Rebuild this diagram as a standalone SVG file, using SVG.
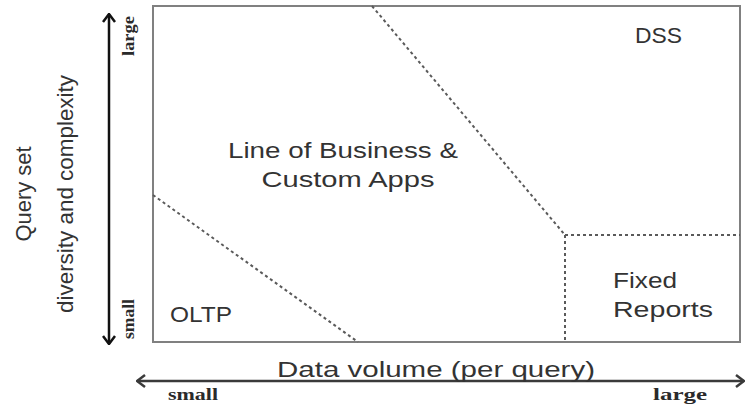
<svg xmlns="http://www.w3.org/2000/svg" width="751" height="404" viewBox="0 0 751 404">
  <style>
    .lbl { font-family: "Liberation Sans", Arial, sans-serif; font-size: 22px; fill: #333333; }
    .tick { font-family: "Liberation Serif", "Times New Roman", serif; font-size: 16px; font-weight: bold; fill: #2a2a2a; }
    .frame { fill: #ffffff; stroke: #808080; stroke-width: 2; }
    .div { fill: none; stroke: #5a5a5a; stroke-width: 2; stroke-dasharray: 3 3; }
    .axis { fill: none; stroke-width: 2.5; }
  </style>
  <defs>
    <marker id="ah" viewBox="0 0 10 14" refX="9" refY="7" markerWidth="10" markerHeight="14" markerUnits="userSpaceOnUse" orient="auto-start-reverse">
      <path d="M1,1 L9,7 L1,13" fill="none" stroke="context-stroke" stroke-width="2.5"/>
    </marker>
  </defs>
  <rect width="751" height="404" fill="#ffffff"/>

  <g id="frame">
    <rect class="frame" x="153" y="6" width="587" height="336"/>
  </g>

  <g id="connectors">
    <line class="div" x1="372" y1="6" x2="565" y2="235"/>
    <line class="div" x1="565" y1="235" x2="740" y2="235"/>
    <line class="div" x1="565" y1="235" x2="565" y2="342" stroke-dasharray="2 3"/>
    <line class="div" x1="153" y1="195" x2="358" y2="342"/>
  </g>

  <g id="y-axis">
    <line class="axis" x1="109" y1="344" x2="109" y2="14" stroke="#111111" marker-start="url(#ah)" marker-end="url(#ah)"/>
    <text class="lbl" text-anchor="middle" transform="translate(31,194) rotate(-90)" textLength="95" lengthAdjust="spacingAndGlyphs">Query set</text>
    <text class="lbl" text-anchor="middle" transform="translate(73,194) rotate(-90)" textLength="238" lengthAdjust="spacingAndGlyphs">diversity and complexity</text>
    <text class="tick" text-anchor="middle" transform="translate(134,36) rotate(-90)" textLength="40" lengthAdjust="spacingAndGlyphs">large</text>
    <text class="tick" text-anchor="middle" transform="translate(134,319) rotate(-90)" textLength="40" lengthAdjust="spacingAndGlyphs">small</text>
  </g>

  <g id="x-axis">
    <line class="axis" x1="137" y1="381" x2="744" y2="381" stroke="#3a3a3a" marker-start="url(#ah)" marker-end="url(#ah)"/>
    <text class="lbl" x="436" y="377" text-anchor="middle" font-size="26" textLength="318" lengthAdjust="spacingAndGlyphs">Data volume (per query)</text>
    <text class="tick" x="168" y="400" font-size="17" textLength="50" lengthAdjust="spacingAndGlyphs">small</text>
    <text class="tick" x="653" y="400" font-size="17" textLength="54" lengthAdjust="spacingAndGlyphs">large</text>
  </g>

  <g id="dss">
    <text class="lbl" x="635" y="43" textLength="47" lengthAdjust="spacingAndGlyphs">DSS</text>
  </g>

  <g id="lob">
    <text class="lbl" x="343" y="158" text-anchor="middle" textLength="230" lengthAdjust="spacingAndGlyphs">Line of Business &amp;</text>
    <text class="lbl" x="348" y="187" text-anchor="middle" textLength="173" lengthAdjust="spacingAndGlyphs">Custom Apps</text>
  </g>

  <g id="oltp">
    <text class="lbl" x="170" y="322" textLength="62" lengthAdjust="spacingAndGlyphs">OLTP</text>
  </g>

  <g id="fixed-reports">
    <text class="lbl" x="613" y="288" textLength="64" lengthAdjust="spacingAndGlyphs">Fixed</text>
    <text class="lbl" x="613" y="317" textLength="100" lengthAdjust="spacingAndGlyphs">Reports</text>
  </g>
</svg>
